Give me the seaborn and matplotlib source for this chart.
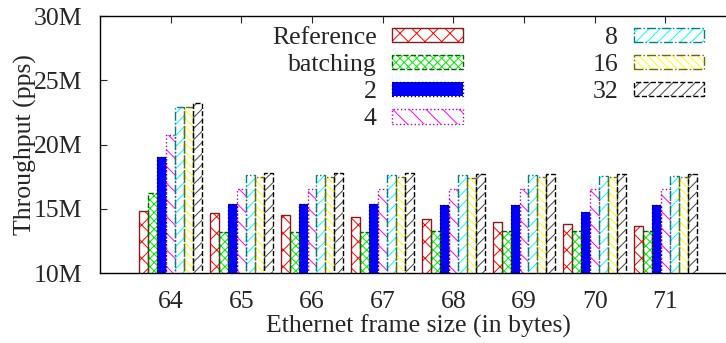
import pandas as pd
import numpy as np
import matplotlib
matplotlib.use("Agg")
import matplotlib.pyplot as plt
import matplotlib.patches as mpatches
from matplotlib.legend_handler import HandlerTuple
from matplotlib.ticker import FuncFormatter
import seaborn as sns

# data (Mpps)
frame_sizes = ["64", "65", "66", "67", "68", "69", "70", "71"]
series = ["Reference", "batching", "2", "4", "8", "16", "32"]
reference = [14.8, 14.67, 14.5, 14.33, 14.17, 14.0, 13.84, 13.66]
batching = [16.2, 13.2, 13.2, 13.2, 13.27, 13.27, 13.27, 13.27]
batch_2 = [19.05, 15.4, 15.4, 15.4, 15.3, 15.3, 14.75, 15.3]
batch_4 = [20.75, 16.5, 16.5, 16.5, 16.5, 16.5, 16.5, 16.5]
batch_8 = [22.9, 17.6, 17.6, 17.6, 17.6, 17.6, 17.55, 17.55]
batch_16 = [22.9, 17.45, 17.45, 17.45, 17.4, 17.45, 17.45, 17.45]
batch_32 = [23.2, 17.75, 17.75, 17.75, 17.7, 17.7, 17.7, 17.7]

values = [reference, batching, batch_2, batch_4, batch_8, batch_16, batch_32]
rows = []
for name, vals in zip(series, values):
    for fs, v in zip(frame_sizes, vals):
        rows.append({"size": fs, "series": name, "pps": v * 1e6})
df = pd.DataFrame(rows)

# style per series: face, hatch, hatch colour, edge colour, edge linestyle
styles = {
    "Reference": ("white", "xx", "#ff0000", "#8b1a1a", "-"),
    "batching": ("white", "xxxx", "#00ee00", "#006400", "--"),
    "2": ("#0000ff", "", "#0000ff", "#000040", ":"),
    "4": ("white", "\\\\", "#ff00ff", "#b000b0", ":"),
    "8": ("white", "///", "#00ffff", "#008080", "-."),
    "16": ("white", "\\\\\\\\", "#ffff00", "#6b6b00", "-."),
    "32": ("white", "///", "#444444", "#000000", "--"),
}

sns.set_style("white")
plt.rcParams["font.family"] = ["Liberation Serif", "DejaVu Serif"]
plt.rcParams["hatch.linewidth"] = 0.7

fs_txt = 18.5
fig = plt.figure(figsize=(7.26, 3.43), dpi=100)
ax = fig.add_axes([100 / 726, 1 - 273 / 343, 636 / 726, 257 / 343])

# hatched fill
sns.barplot(data=df, x="size", y="pps", hue="series", order=frame_sizes,
            hue_order=series, width=0.89, errorbar=None, legend=False, ax=ax)
# outlines on top
sns.barplot(data=df, x="size", y="pps", hue="series", order=frame_sizes,
            hue_order=series, width=0.89, errorbar=None, legend=False, ax=ax)

for i, name in enumerate(series):
    face, hatch, hcol, ecol, ls = styles[name]
    for bar in ax.containers[i]:
        bar.set_facecolor(face)
        bar.set_hatch(hatch)
        bar.set_edgecolor(hcol)
        bar.set_linewidth(0)
    for bar in ax.containers[i + len(series)]:
        bar.set_fill(False)
        bar.set_edgecolor(ecol)
        bar.set_linestyle(ls)
        bar.set_linewidth(1.0)

ax.set_ylim(10e6, 30e6)
ax.set_yticks([10e6, 15e6, 20e6, 25e6, 30e6])
ax.yaxis.set_major_formatter(FuncFormatter(lambda v, p: f"{int(round(v / 1e6))}M"))
ax.set_xlim(-1, 8)

ax.tick_params(axis="y", direction="in", length=5, width=0.8, pad=13,
               labelsize=fs_txt, left=True, right=False)
ax.tick_params(axis="x", direction="in", length=5, width=0.8, pad=13,
               labelsize=fs_txt, bottom=False, top=True)
for sp in ax.spines.values():
    sp.set_color("black")
    sp.set_linewidth(1.0)

ax.set_xlabel("Ethernet frame size (in bytes)", fontsize=fs_txt, labelpad=1)
ax.set_ylabel("Throughput (pps)", fontsize=fs_txt)
ax.yaxis.set_label_coords(-0.099, 0.5)

# legend, gnuplot-like: text then sample
handles = []
for name in series:
    face, hatch, hcol, ecol, ls = styles[name]
    fill = mpatches.Patch(facecolor=face, hatch=hatch, edgecolor=hcol, linewidth=0)
    edge = mpatches.Patch(fill=False, edgecolor=ecol, linestyle=ls, linewidth=1.0)
    handles.append((fill, edge))
ax.legend(handles, series, handler_map={tuple: HandlerTuple(ndivide=1, pad=0)},
          ncol=2, markerfirst=False, frameon=False, fontsize=fs_txt,
          loc="upper left", bbox_to_anchor=(172 / 636, 1 - 11 / 257),
          borderpad=0, borderaxespad=0, handlelength=2.75, handleheight=0.5,
          handletextpad=0.6, columnspacing=5.05, labelspacing=0.2)

fig.savefig("out.png", dpi=100)
